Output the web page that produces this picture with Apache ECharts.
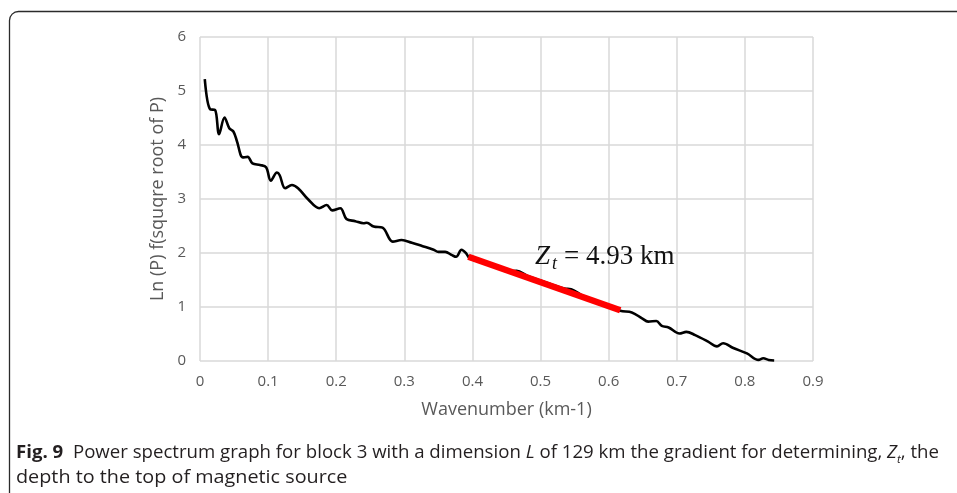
<!DOCTYPE html>
<html>
<head>
<meta charset="utf-8">
<script src="https://cdn.jsdelivr.net/npm/echarts@6/dist/echarts.min.js"></script>
<style>
  html, body { margin: 0; padding: 0; background: #fff; }
  #chart { width: 957px; height: 493px; }
</style>
</head>
<body>
<div id="chart"></div>
<script>
// Power spectrum of block 3: wavenumber (km-1) vs Ln(P)
const wavenumber = [
  0.007, 0.015, 0.022, 0.028, 0.036, 0.043, 0.049, 0.054, 0.063, 0.070,
  0.077, 0.088, 0.097, 0.104, 0.113, 0.117, 0.125, 0.135, 0.144, 0.159,
  0.175, 0.186, 0.194, 0.206, 0.215, 0.228, 0.240, 0.245, 0.255, 0.268,
  0.283, 0.296, 0.311, 0.326, 0.343, 0.350, 0.360, 0.370, 0.376, 0.384,
  0.391, 0.396, 0.415, 0.435, 0.452, 0.465, 0.480, 0.500, 0.520, 0.535,
  0.545, 0.560, 0.580, 0.600, 0.617, 0.634, 0.649, 0.658, 0.670, 0.678,
  0.688, 0.704, 0.714, 0.727, 0.746, 0.759, 0.768, 0.783, 0.803, 0.820,
  0.827, 0.835, 0.843
];
const lnPower = [
  5.22, 4.66, 4.65, 4.20, 4.51, 4.31, 4.25, 4.08, 3.77, 3.78,
  3.66, 3.63, 3.59, 3.34, 3.49, 3.44, 3.20, 3.26, 3.20, 2.99,
  2.83, 2.89, 2.79, 2.83, 2.63, 2.59, 2.55, 2.56, 2.49, 2.47,
  2.21, 2.24, 2.19, 2.13, 2.06, 2.02, 2.02, 1.96, 1.93, 2.06,
  1.99, 1.90, 1.82, 1.73, 1.66, 1.67, 1.58, 1.49, 1.40, 1.34,
  1.33, 1.22, 1.12, 1.03, 0.93, 0.90, 0.79, 0.73, 0.74, 0.65,
  0.62, 0.51, 0.54, 0.48, 0.36, 0.27, 0.33, 0.24, 0.14, 0.02,
  0.05, 0.02, 0.01
];
// Straight-line fit used for the depth estimate
const fitWavenumber = [0.394, 0.617];
const fitLnPower = [1.93, 0.94];

const xTicks = { min: 0, max: 0.9, interval: 0.1 };
const yTicks = { min: 0, max: 6, interval: 1 };

const xAxisTitle = 'Wavenumber (km-1)';
const yAxisTitle = 'Ln (P) f(squqre root of P)';

const chart = echarts.init(document.getElementById('chart'), null, { renderer: 'canvas' });

const pairs = (xs, ys) => xs.map((x, i) => [x, ys[i]]);
const axisFont = '"Open Sans", sans-serif';
const serif = '"Liberation Serif", "Times New Roman", serif';
const capFont = '"Open Sans", sans-serif';

chart.setOption({
  animation: false,
  backgroundColor: '#ffffff',
  grid: { left: 200, right: 144, top: 37, bottom: 132, containLabel: false },
  xAxis: {
    type: 'value',
    min: xTicks.min, max: xTicks.max, interval: xTicks.interval,
    name: xAxisTitle, nameLocation: 'middle', nameGap: 40,
    nameTextStyle: { color: '#595959', fontSize: 18, fontFamily: axisFont },
    axisLine: { show: false },
    axisTick: { show: false },
    axisLabel: {
      color: '#595959', fontSize: 15, fontFamily: axisFont, margin: 13,
      formatter: v => (v === 0 ? '0' : v.toFixed(1))
    },
    splitLine: { show: true, lineStyle: { color: '#d9d9d9', width: 1.5 } }
  },
  yAxis: {
    type: 'value',
    min: yTicks.min, max: yTicks.max, interval: yTicks.interval,
    name: yAxisTitle, nameLocation: 'middle', nameGap: 33, nameRotate: 90,
    nameTextStyle: { color: '#595959', fontSize: 18, fontFamily: axisFont },
    axisLine: { show: false },
    axisTick: { show: false },
    axisLabel: { color: '#595959', fontSize: 15, fontFamily: axisFont, margin: 14 },
    splitLine: { show: true, lineStyle: { color: '#d9d9d9', width: 1.5 } }
  },
  series: [
    {
      type: 'line',
      data: pairs(wavenumber, lnPower),
      smooth: 0.35,
      showSymbol: false,
      lineStyle: { color: '#000000', width: 2.6 },
      z: 2
    },
    {
      type: 'line',
      data: pairs(fitWavenumber, fitLnPower),
      showSymbol: false,
      lineStyle: { color: '#ff0000', width: 6.5, cap: 'butt' },
      z: 3
    }
  ],
  graphic: [
    // figure frame with rounded top-left corner
    {
      type: 'rect', left: 7, top: 9, z: 0, silent: true,
      shape: { width: 1200, height: 800, r: 9 },
      style: { fill: 'none', stroke: '#2b2b2b', lineWidth: 1.3 }
    },
    // slope annotation
    { type: 'text', x: 535, y: 243, z: 10, style: { text: 'Z', font: 'italic 27px ' + serif, fill: '#111' } },
    { type: 'text', x: 552, y: 255, z: 10, style: { text: 't', font: 'italic 18px ' + serif, fill: '#111' } },
    { type: 'text', x: 564, y: 243, z: 10, style: { text: '= 4.93 km', font: '27px ' + serif, fill: '#111' } },
    // figure caption, first line
    {
      type: 'text', x: 16, y: 441, z: 10, scaleX: 1.035,
      style: {
        text: '{b|Fig. 9}  Power spectrum graph for block 3 with a dimension {i|L} of 129 km the gradient for determining, {i|Z}{s|t}, the',
        font: '18px ' + capFont,
        fill: '#231f20',
        lineHeight: 24,
        rich: {
          b: { font: 'bold 18px ' + capFont, fill: '#231f20', lineHeight: 24 },
          i: { font: 'italic 18px ' + capFont, fill: '#231f20', lineHeight: 24 },
          s: { font: 'italic 11px ' + capFont, fill: '#231f20', verticalAlign: 'bottom' }
        }
      }
    },
    // figure caption, second line
    {
      type: 'text', x: 16, y: 466, z: 10, scaleX: 1.1,
      style: { text: 'depth to the top of magnetic source', font: '18px ' + capFont, fill: '#231f20', lineHeight: 24 }
    }
  ]
});
</script>
</body>
</html>
